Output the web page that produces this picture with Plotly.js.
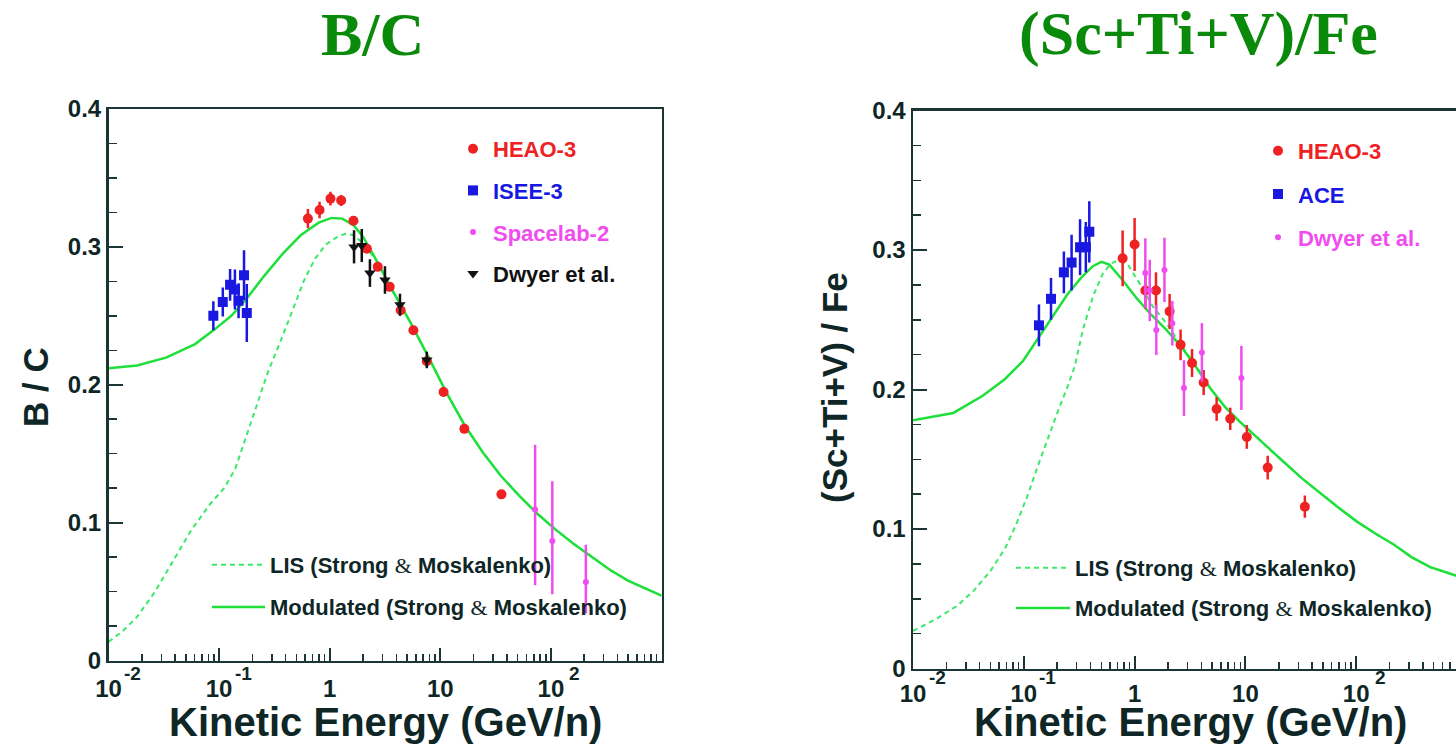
<!DOCTYPE html>
<html><head><meta charset="utf-8">
<script src="https://cdn.plot.ly/plotly-3.0.1.min.js"></script>
<style>html,body{margin:0;padding:0;overflow:hidden;background:#fff;width:1456px;height:745px}#chart{width:1470px;height:745px}</style>
</head><body><div id="chart"></div><script>
// ---------- B/C panel ----------
const bcHeaoE   = [0.635, 0.81, 1.016, 1.27, 1.64, 2.17, 2.72, 3.49, 4.38, 5.71, 7.55, 10.7, 16.5, 35.7];
const bcHeaoV   = [0.3205, 0.3268, 0.335, 0.3337, 0.319, 0.2987, 0.2855, 0.271, 0.254, 0.2395, 0.217, 0.1947, 0.168, 0.1205];
const bcHeaoErr = [0.007, 0.006, 0.005, 0.004, 0.003, 0.003, 0.003, 0.003, 0.003, 0.003, 0.003, 0.003, 0.003, 0.003];

const bcIseeE   = [0.0887, 0.108, 0.1257, 0.139, 0.150, 0.168, 0.178];
const bcIseeV   = [0.250, 0.260, 0.2725, 0.269, 0.261, 0.2795, 0.252];
const bcIseeErr = [0.0105, 0.0105, 0.0115, 0.0145, 0.0127, 0.018, 0.021];

const bcSpacelabE     = [72, 103, 207];
const bcSpacelabV     = [0.1095, 0.0866, 0.057];
const bcSpacelabPlus  = [0.047, 0.0434, 0.027];
const bcSpacelabMinus = [0.055, 0.0385, 0.023];

const bcDwyerE   = [1.66, 1.95, 2.31, 3.16, 4.32, 7.55];
const bcDwyerV   = [0.300, 0.301, 0.281, 0.276, 0.258, 0.218];
const bcDwyerErr = [0.012, 0.012, 0.010, 0.010, 0.008, 0.006];

const bcModE = [0.01, 0.0181, 0.0331, 0.0607, 0.0906, 0.129, 0.175, 0.256, 0.373, 0.546, 0.796, 1.04, 1.30, 1.64, 1.98, 2.68, 3.62, 5.30, 7.73, 11.3, 16.5, 24.1, 35.2, 51.4, 75.0, 109, 160, 233, 341, 498, 1000];
const bcModV = [0.212, 0.214, 0.2197, 0.2295, 0.240, 0.250, 0.2618, 0.279, 0.2947, 0.3084, 0.3176, 0.321, 0.3205, 0.3158, 0.3079, 0.2895, 0.2697, 0.246, 0.221, 0.1947, 0.171, 0.1513, 0.134, 0.1197, 0.1066, 0.0953, 0.0847, 0.075, 0.0658, 0.0579, 0.047];

const bcLisE = [0.01, 0.0133, 0.0181, 0.0264, 0.0385, 0.0562, 0.082, 0.111, 0.140, 0.175, 0.220, 0.276, 0.355, 0.438, 0.589, 0.738, 0.927, 1.16, 1.38, 1.66, 2.0, 2.68, 3.62, 5.30, 7.73, 11.3, 16.5, 24.1, 35.2, 51.4, 75.0, 109, 160, 233, 341, 498, 1000];
const bcLisV = [0.0135, 0.021, 0.0316, 0.050, 0.0724, 0.0947, 0.113, 0.125, 0.139, 0.162, 0.187, 0.209, 0.2305, 0.2495, 0.276, 0.2915, 0.3018, 0.307, 0.3095, 0.3085, 0.3025, 0.2895, 0.2697, 0.246, 0.221, 0.1947, 0.171, 0.1513, 0.134, 0.1197, 0.1066, 0.0953, 0.0847, 0.075, 0.0658, 0.0579, 0.047];

// ---------- (Sc+Ti+V)/Fe panel ----------
const stHeaoE   = [0.78, 1.0, 1.25, 1.56, 2.07, 2.6, 3.3, 4.2, 5.5, 7.3, 10.3, 15.9, 34.4];
const stHeaoV   = [0.294, 0.304, 0.271, 0.271, 0.256, 0.232, 0.219, 0.205, 0.186, 0.179, 0.166, 0.144, 0.116];
const stHeaoErr = [0.020, 0.019, 0.013, 0.013, 0.0125, 0.011, 0.010, 0.009, 0.0085, 0.008, 0.0085, 0.0085, 0.008];

const stAceE   = [0.137, 0.176, 0.23, 0.27, 0.322, 0.363, 0.39];
const stAceV   = [0.246, 0.265, 0.284, 0.291, 0.302, 0.302, 0.313];
const stAceErr = [0.015, 0.015, 0.015, 0.020, 0.020, 0.018, 0.022];

const stDwyerE   = [1.25, 1.37, 1.57, 1.86, 2.19, 2.79, 4.05, 9.2];
const stDwyerV   = [0.2835, 0.271, 0.2427, 0.2857, 0.2475, 0.201, 0.2266, 0.2083];
const stDwyerErr = [0.025, 0.022, 0.018, 0.023, 0.016, 0.020, 0.021, 0.023];

const stModE = [0.01, 0.0231, 0.0426, 0.0673, 0.0984, 0.1337, 0.181, 0.246, 0.333, 0.42, 0.501, 0.592, 0.771, 1.047, 1.419, 1.928, 2.61, 3.55, 4.81, 6.53, 8.85, 12.0, 16.3, 22.1, 32.4, 47.3, 69.3, 101.6, 148.6, 217.8, 318.4, 466.7, 776, 1000];
const stModV = [0.178, 0.1832, 0.1955, 0.2074, 0.2205, 0.2363, 0.2521, 0.2679, 0.2805, 0.2884, 0.2915, 0.2895, 0.2789, 0.2653, 0.2534, 0.2429, 0.2311, 0.2166, 0.2008, 0.1876, 0.1771, 0.1674, 0.1574, 0.1482, 0.1363, 0.1258, 0.1153, 0.1053, 0.0968, 0.0889, 0.0797, 0.0726, 0.067, 0.064];

const stLisE = [0.01, 0.0158, 0.0251, 0.0355, 0.0501, 0.0676, 0.0851, 0.107, 0.135, 0.17, 0.209, 0.251, 0.288, 0.342, 0.421, 0.519, 0.617, 0.708, 0.871, 1.109, 1.462, 1.928, 2.54, 3.55, 4.81, 6.53, 8.85, 12.0, 16.3, 22.1, 32.4, 47.3, 69.3, 101.6, 148.6, 217.8, 318.4, 466.7, 776, 1000];
const stLisV = [0.027, 0.035, 0.045, 0.056, 0.070, 0.086, 0.103, 0.123, 0.146, 0.168, 0.187, 0.203, 0.2166, 0.243, 0.2668, 0.2834, 0.2905, 0.2925, 0.2894, 0.276, 0.2594, 0.2478, 0.2334, 0.2175, 0.2012, 0.1876, 0.1771, 0.1674, 0.1574, 0.1482, 0.1363, 0.1258, 0.1153, 0.1053, 0.0968, 0.0889, 0.0797, 0.0726, 0.067, 0.064];

// ---------- axis labels ----------
const xTickVals = [0.01, 0.1, 1, 10, 100];
const xTickText = ['10', '10', '1', '10', '10'];
const xTickExp  = ['-2', '-1', '', '', '2'];
const yTickVals = [0, 0.1, 0.2, 0.3, 0.4];
const yTickText = ['0', '0.1', '0.2', '0.3', '0.4'];
const titleLeft = 'B/C';
const titleRight = '(Sc+Ti+V)/Fe';
const yTitleLeft = 'B / C';
const yTitleRight = '(Sc+Ti+V) / Fe';
const xTitle = 'Kinetic Energy (GeV/n)';

// ---------- styling ----------
const W = 1470, H = 745;
const RED = '#ee2222', BLUE = '#1818e0', MAG = '#f04cf0', BLK = '#111111';
const GREEN = '#1fe03a', GREEN_D = '#3de86a';
const FRAME = '#1b3434', TXT = '#0f2626';
const SANS = 'Liberation Sans, Arial, Helvetica, sans-serif';
const amp = '<span style="font-family:Liberation Serif;font-weight:normal">&amp;</span>';

const minorX = [];
for (let d = -2; d <= 2; d++) for (let k = 2; k <= 9; k++) minorX.push(k * Math.pow(10, d));

function px(x) { return x / W; }
function py(y) { return (H - y) / H; }

function errBar(arr, col, minus) {
  const e = {type: 'data', array: arr, width: 0, thickness: 2.5, color: col, visible: true};
  if (minus) { e.symmetric = false; e.arrayminus = minus; }
  return e;
}

function xAxis(dom, anchor, standoff) {
  return {
    type: 'log', range: [-2, 3], domain: dom, anchor: anchor,
    showline: true, linewidth: 2.5, linecolor: FRAME, mirror: true,
    ticks: 'inside', ticklen: 13, tickwidth: 2, tickcolor: FRAME,
    tickmode: 'array', tickvals: xTickVals, ticktext: xTickText, ticklabelstandoff: standoff,
    minor: {tickmode: 'array', tickvals: minorX, ticks: 'inside', ticklen: 7, tickwidth: 1.5, tickcolor: FRAME, showgrid: false},
    showgrid: false, zeroline: false,
    tickfont: {family: SANS, size: 24, weight: 'bold', color: TXT}
  };
}
function yAxis(dom, anchor) {
  return {
    range: [0, 0.4], domain: dom, anchor: anchor,
    showline: true, linewidth: 2.5, linecolor: FRAME, mirror: true,
    ticks: 'inside', ticklen: 14, tickwidth: 2, tickcolor: FRAME,
    tickmode: 'array', tickvals: yTickVals, ticktext: yTickText,
    minor: {tickmode: 'linear', tick0: 0, dtick: 0.025, ticks: 'inside', ticklen: 8, tickwidth: 1.5, tickcolor: FRAME, showgrid: false},
    showgrid: false, zeroline: false,
    tickfont: {family: SANS, size: 24, weight: 'bold', color: TXT}
  };
}

const data = [
  {x: bcLisE, y: bcLisV, mode: 'lines', line: {color: GREEN_D, width: 2, dash: '5px,4px'},
   name: 'LIS (Strong ' + amp + ' Moskalenko)', xaxis: 'x', yaxis: 'y', legend: 'legend2', legendgroup: 'l1'},
  {x: bcModE, y: bcModV, mode: 'lines', line: {color: GREEN, width: 2.5},
   name: 'Modulated (Strong ' + amp + ' Moskalenko)', xaxis: 'x', yaxis: 'y', legend: 'legend2', legendgroup: 'l2'},
  {x: bcHeaoE, y: bcHeaoV, mode: 'markers', marker: {color: RED, size: 10, symbol: 'circle'},
   error_y: errBar(bcHeaoErr, RED), name: '<span style="color:' + RED + '">HEAO-3</span>',
   xaxis: 'x', yaxis: 'y', legend: 'legend', legendgroup: 'p1'},
  {x: bcIseeE, y: bcIseeV, mode: 'markers', marker: {color: BLUE, size: 10, symbol: 'square'},
   error_y: errBar(bcIseeErr, BLUE), name: '<span style="color:' + BLUE + '">ISEE-3</span>',
   xaxis: 'x', yaxis: 'y', legend: 'legend', legendgroup: 'p2'},
  {x: bcSpacelabE, y: bcSpacelabV, mode: 'markers', marker: {color: MAG, size: 6, symbol: 'circle'},
   error_y: errBar(bcSpacelabPlus, MAG, bcSpacelabMinus), name: '<span style="color:' + MAG + '">Spacelab-2</span>',
   xaxis: 'x', yaxis: 'y', legend: 'legend', legendgroup: 'p3'},
  {x: bcDwyerE, y: bcDwyerV, mode: 'markers', marker: {color: BLK, size: 10, symbol: 'triangle-down'},
   error_y: errBar(bcDwyerErr, BLK), name: '<span style="color:' + BLK + '">Dwyer et al.</span>',
   xaxis: 'x', yaxis: 'y', legend: 'legend', legendgroup: 'p4'},
  {x: stLisE, y: stLisV, mode: 'lines', line: {color: GREEN_D, width: 2, dash: '5px,4px'},
   name: 'LIS (Strong ' + amp + ' Moskalenko)', xaxis: 'x2', yaxis: 'y2', legend: 'legend4', legendgroup: 'r1'},
  {x: stModE, y: stModV, mode: 'lines', line: {color: GREEN, width: 2.5},
   name: 'Modulated (Strong ' + amp + ' Moskalenko)', xaxis: 'x2', yaxis: 'y2', legend: 'legend4', legendgroup: 'r2'},
  {x: stHeaoE, y: stHeaoV, mode: 'markers', marker: {color: RED, size: 10, symbol: 'circle'},
   error_y: errBar(stHeaoErr, RED), name: '<span style="color:' + RED + '">HEAO-3</span>',
   xaxis: 'x2', yaxis: 'y2', legend: 'legend3', legendgroup: 'q1'},
  {x: stAceE, y: stAceV, mode: 'markers', marker: {color: BLUE, size: 10, symbol: 'square'},
   error_y: errBar(stAceErr, BLUE), name: '<span style="color:' + BLUE + '">ACE</span>',
   xaxis: 'x2', yaxis: 'y2', legend: 'legend3', legendgroup: 'q2'},
  {x: stDwyerE, y: stDwyerV, mode: 'markers', marker: {color: MAG, size: 6, symbol: 'circle'},
   error_y: errBar(stDwyerErr, MAG), name: '<span style="color:' + MAG + '">Dwyer et al.</span>',
   xaxis: 'x2', yaxis: 'y2', legend: 'legend3', legendgroup: 'q3'}
];

function legendCfg(x, y, gap, itemwidth) {
  return {x: px(x), y: py(y), xanchor: 'left', yanchor: 'top', bgcolor: 'rgba(0,0,0,0)', borderwidth: 0,
          font: {family: SANS, size: 22, weight: 'bold', color: TXT}, tracegroupgap: gap,
          traceorder: 'grouped', itemwidth: itemwidth, itemclick: false, itemdoubleclick: false};
}

const annotations = [
  {text: titleLeft, x: px(372), y: py(34), xref: 'paper', yref: 'paper', xanchor: 'center', yanchor: 'middle', showarrow: false,
   font: {family: 'Liberation Serif, Times New Roman, serif', size: 62, weight: 'bold', color: '#0a8a0a'}},
  {text: titleRight, x: px(1198), y: py(34), xref: 'paper', yref: 'paper', xanchor: 'center', yanchor: 'middle', showarrow: false,
   font: {family: 'Liberation Serif, Times New Roman, serif', size: 62, weight: 'bold', color: '#0a8a0a'}},
  {text: xTitle, x: px(385), y: py(722), xref: 'paper', yref: 'paper', xanchor: 'center', yanchor: 'middle', showarrow: false,
   font: {family: SANS, size: 40, weight: 'bold', color: TXT}},
  {text: xTitle, x: px(1190), y: py(722), xref: 'paper', yref: 'paper', xanchor: 'center', yanchor: 'middle', showarrow: false,
   font: {family: SANS, size: 40, weight: 'bold', color: TXT}},
  {text: yTitleLeft, x: px(35), y: py(387), xref: 'paper', yref: 'paper', xanchor: 'center', yanchor: 'middle', showarrow: false, textangle: -90,
   font: {family: SANS, size: 35, weight: 'bold', color: TXT}},
  {text: yTitleRight, x: px(835), y: py(388), xref: 'paper', yref: 'paper', xanchor: 'center', yanchor: 'middle', showarrow: false, textangle: -90,
   font: {family: SANS, size: 35, weight: 'bold', color: TXT}}
];
// exponents of the decade tick labels (ROOT style, raised and offset to the right)
[['x', 673], ['x2', 677]].forEach(function (ax) {
  xTickVals.forEach(function (v, i) {
    if (!xTickExp[i]) return;
    annotations.push({text: xTickExp[i], x: Math.log10(v), xref: ax[0], y: py(ax[1]), yref: 'paper',
      xanchor: 'center', yanchor: 'middle', xshift: 24, showarrow: false,
      font: {family: SANS, size: 19, weight: 'bold', color: TXT}});
  });
});

const layout = {
  width: W, height: H, margin: {l: 0, r: 0, t: 0, b: 0},
  paper_bgcolor: '#ffffff', plot_bgcolor: '#ffffff', showlegend: true,
  xaxis: xAxis([px(108.5), px(661.5)], 'y', 5),
  yaxis: yAxis([py(660.5), py(109)], 'x'),
  xaxis2: xAxis([px(913), px(1467)], 'y2', 2),
  yaxis2: yAxis([py(668.5), py(110.5)], 'x2'),
  legend: legendCfg(453, 128, 10, 30),
  legend2: legendCfg(207, 544, 10.5, 53),
  legend3: legendCfg(1258, 130, 11.6, 30),
  legend4: legendCfg(1011, 547, 8.5, 54),
  annotations: annotations
};

Plotly.newPlot('chart', data, layout, {staticPlot: true, displayModeBar: false});
</script></body></html>
